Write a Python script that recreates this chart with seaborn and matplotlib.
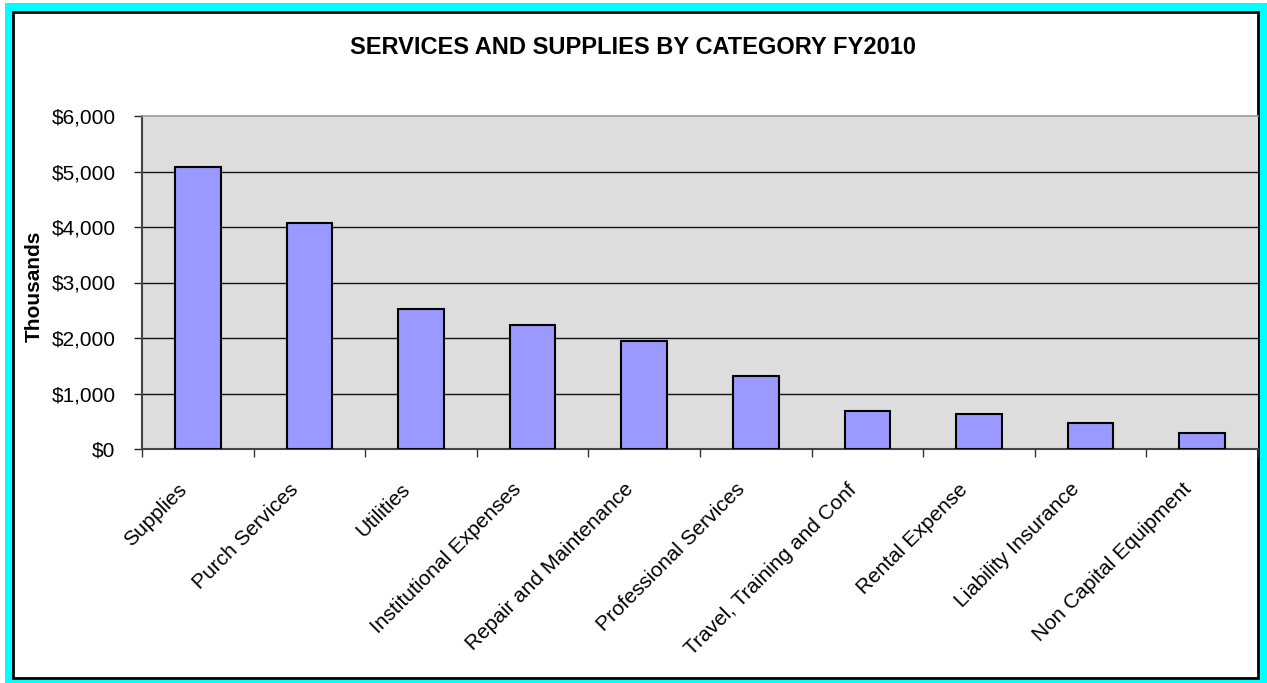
import matplotlib
matplotlib.use("Agg")
import matplotlib.pyplot as plt
import matplotlib.ticker as mticker
from matplotlib.patches import Rectangle
from matplotlib.transforms import ScaledTranslation
import seaborn as sns
import pandas as pd

categories = ["Supplies", "Purch Services", "Utilities", "Institutional Expenses",
              "Repair and Maintenance", "Professional Services",
              "Travel, Training and Conf", "Rental Expense", "Liability Insurance",
              "Non Capital Equipment"]
values = [5080, 4080, 2520, 2230, 1950, 1320, 690, 630, 475, 290]
y_ticks = [0, 1000, 2000, 3000, 4000, 5000, 6000]
title = "SERVICES AND SUPPLIES BY CATEGORY FY2010"
y_label = "Thousands"

sns.set_style("white")
plt.rcParams["font.family"] = ["Liberation Sans", "DejaVu Sans"]
plt.rcParams["text.color"] = "black"
plt.rcParams["xtick.color"] = "black"
plt.rcParams["ytick.color"] = "black"
plt.rcParams["xtick.labelcolor"] = "black"
plt.rcParams["ytick.labelcolor"] = "black"

W, H = 1267, 683
fig = plt.figure(figsize=(W / 100, H / 100), dpi=100)
fig.patch.set_facecolor("white")

# outer cyan frame and inner black border
fig.patches.append(Rectangle((5 / W, 0), 1 - 5 / W, 1 - 3 / H, transform=fig.transFigure,
                             facecolor="#00FFFF", edgecolor="none", zorder=0))
fig.patches.append(Rectangle((13 / W, 5 / H), (1258 - 13) / W, (671 - 5) / H,
                             transform=fig.transFigure, facecolor="white",
                             edgecolor="black", linewidth=2, zorder=1))

ax = fig.add_axes([142 / W, (H - 449) / H, (1258 - 142) / W, (449 - 116) / H])
ax.set_zorder(2)
ax.set_facecolor("#DDDDDD")

df = pd.DataFrame({"category": categories, "value": values})
sns.barplot(data=df, x="category", y="value", color="#9999FF", saturation=1,
            edgecolor="black", linewidth=1.5, width=0.41, ax=ax, zorder=3)

ax.set_xlim(-0.5, len(categories) - 0.5)
ax.set_ylim(0, 6000)
ax.set_yticks(y_ticks)
ax.yaxis.set_major_formatter(mticker.StrMethodFormatter("${x:,.0f}"))
ax.set_xlabel("")
ax.set_ylabel("")

# gridlines
ax.yaxis.grid(True, color="#111111", linewidth=1)
ax.set_axisbelow(True)
for gl in ax.get_ygridlines()[-1:]:
    gl.set_visible(False)

for side in ["left", "bottom"]:
    ax.spines[side].set_color("#444444")
    ax.spines[side].set_linewidth(1.5)
ax.spines["top"].set_color("#999999")
ax.spines["top"].set_linewidth(1.2)
ax.spines["right"].set_visible(False)

ax.tick_params(axis="y", which="major", length=6, width=1, color="#222222",
               labelsize=15, pad=13, direction="out", left=True, labelcolor="black")
ax.tick_params(axis="x", which="major", length=0, labelsize=15, pad=27, labelcolor="black")
ax.set_xticks([i - 0.5 for i in range(len(categories) + 1)], minor=True)
ax.tick_params(axis="x", which="minor", length=6, width=1, color="#333333",
               direction="out", bottom=True)

offset = ScaledTranslation(-14 / 100, 0, fig.dpi_scale_trans)
for lab in ax.get_xticklabels():
    lab.set_rotation(45)
    lab.set_ha("right")
    lab.set_va("center")
    lab.set_rotation_mode("anchor")
    lab.set_transform(lab.get_transform() + offset)

fig.text(0.5, 1 - 47 / H, title, ha="center", va="center", color="black",
         fontsize=17, fontweight="bold", zorder=5)
fig.text(34 / W, 1 - 286 / H, y_label, ha="center", va="center", rotation=90,
         color="black", fontsize=15, fontweight="bold", zorder=5)

fig.savefig("out.png", dpi=100, facecolor="white")
